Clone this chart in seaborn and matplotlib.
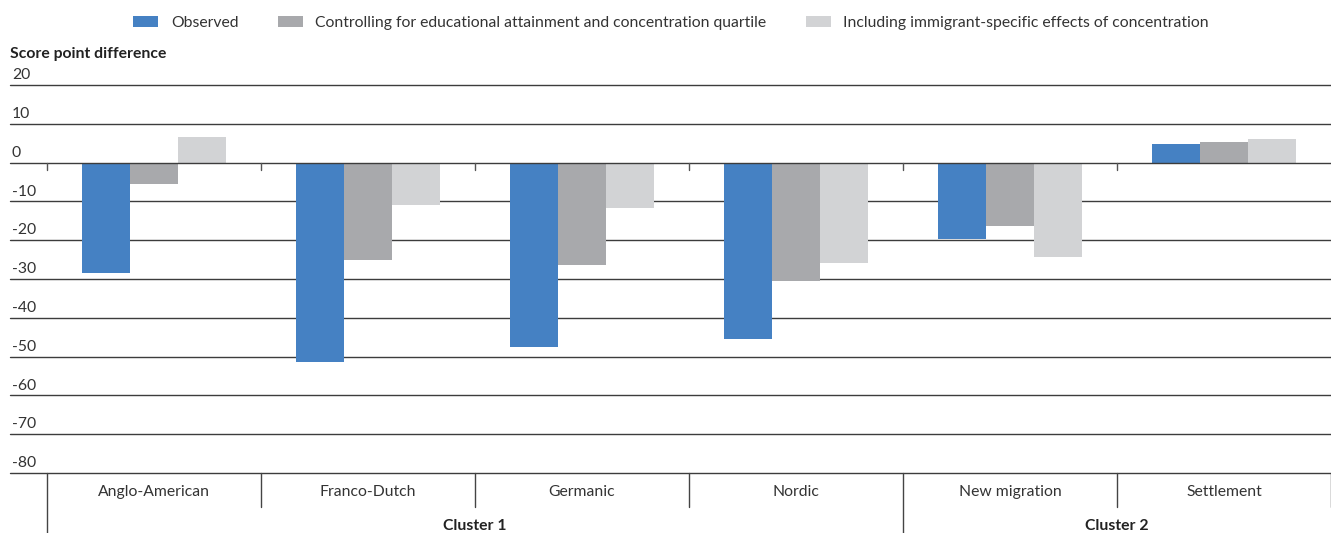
import numpy as np
import pandas as pd
import matplotlib
matplotlib.use("Agg")
import matplotlib.pyplot as plt
import matplotlib.transforms as mtransforms
from matplotlib.patches import Patch
import seaborn as sns

categories = ["Anglo-American", "Franco-Dutch", "Germanic", "Nordic", "New migration", "Settlement"]
clusters = ["Cluster 1", "Cluster 1", "Cluster 1", "Cluster 1", "Cluster 2", "Cluster 2"]
series_names = ["Observed",
                "Controlling for educational attainment and concentration quartile",
                "Including immigrant-specific effects of concentration"]
observed = [-28.4, -51.3, -47.4, -45.4, -19.6, 4.8]
controlling = [-5.4, -25.0, -26.3, -30.4, -16.3, 5.4]
including = [6.7, -10.8, -11.6, -25.8, -24.3, 6.1]
yticks = [20, 10, 0, -10, -20, -30, -40, -50, -60, -70, -80]
colors = ["#4581C3", "#A8A9AC", "#D2D3D5"]

sns.set_theme(style="white")
plt.rcParams['font.family'] = ['Lato', 'DejaVu Sans']

rows = []
for name, vals in zip(series_names, [observed, controlling, including]):
    for c, v in zip(categories, vals):
        rows.append({"category": c, "series": name, "value": v})
df = pd.DataFrame(rows)

W, H = 1331, 533
fig = plt.figure(figsize=(W / 100, H / 100), dpi=100)
ax = fig.add_axes([10 / W, (H - 473) / H, (W - 10) / W, (473 - 85) / H])

sns.barplot(data=df, x="category", y="value", hue="series", order=categories,
            hue_order=series_names, palette=colors, width=0.67, gap=0,
            linewidth=0, saturation=1, legend=False, ax=ax, errorbar=None)

n = len(categories)
ax.set_xlim(-0.5 - 37 / 214, n - 0.5)
ax.set_ylim(-80, 20)
for s in ax.spines.values():
    s.set_visible(False)
ax.set_xticks([])
ax.set_yticks([])
ax.set_xlabel("")
ax.set_ylabel("")

line_col = "#3c3c3c"
ytrans = mtransforms.blended_transform_factory(ax.transAxes, ax.transData)
for yv in yticks:
    ax.axhline(yv, color=line_col, lw=1.0, zorder=0 if yv != 0 else 3, clip_on=False)
    ax.text(0.0015, yv + 0.7, str(yv), transform=ytrans,
            ha="left", va="bottom", fontsize=11.3, color="#333333")

bounds = [i - 0.5 for i in range(n)]
# small tick marks on zero line
for b in bounds:
    ax.plot([b, b], [0, -1.8], color="#555555", lw=1.0, zorder=4)

trans = mtransforms.blended_transform_factory(ax.transData, fig.transFigure)
# category separators below axis
for i, b in enumerate(bounds + [n - 0.5]):
    cl_start = (i == 0) or (i < n and clusters[i] != clusters[i - 1])
    y_bottom = 0.0 if cl_start else (H - 507) / H
    ax.plot([b, b], [(H - 473) / H, y_bottom], transform=trans, color="#444444", lw=1.0, clip_on=False)

for i, c in enumerate(categories):
    ax.text(i, (H - 492) / H, c, transform=trans, ha="center", va="center", fontsize=11.3, color="#333333")

for cl in ["Cluster 1", "Cluster 2"]:
    idx = [i for i, c in enumerate(clusters) if c == cl]
    ax.text((idx[0] - 0.5 + idx[-1] + 0.5) / 2, (H - 526) / H, cl, transform=trans, ha="center", va="center",
            fontsize=11.3, fontweight="bold", color="#222222")

fig.text(10 / W, (H - 54) / H, "Score point difference", ha="left", va="center", fontsize=11.3,
         fontweight="bold", color="#222222")

handles = [Patch(facecolor=col, edgecolor="none") for col in colors]
fig.legend(handles, series_names, loc="center", bbox_to_anchor=(671 / W, (H - 23) / H), ncol=3, frameon=False,
           fontsize=11.3, handlelength=1.6, handleheight=0.75, columnspacing=2.5, handletextpad=0.8,
           labelcolor="#333333")

fig.savefig("out.png", dpi=100)
